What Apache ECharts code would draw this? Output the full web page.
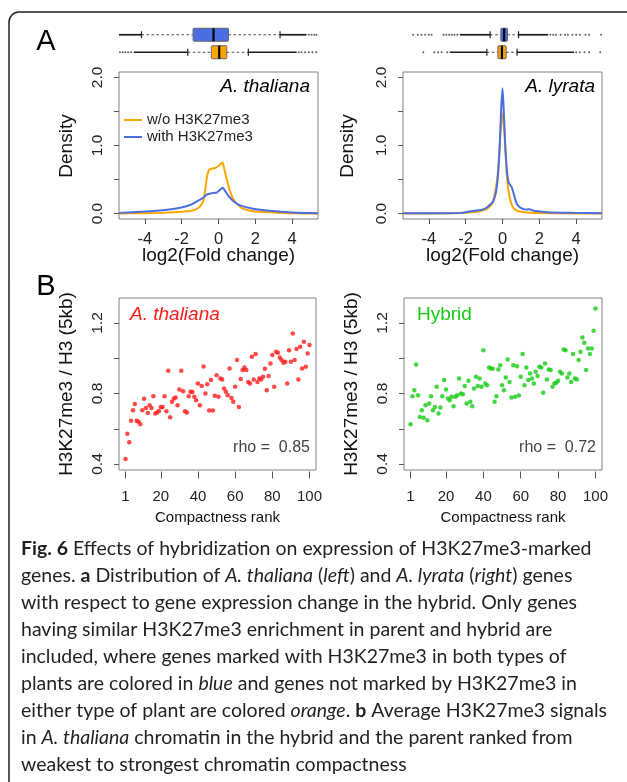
<!DOCTYPE html>
<html><head><meta charset="utf-8">
<script src="https://cdn.jsdelivr.net/npm/echarts@6/dist/echarts.min.js"></script>
<style>html,body{margin:0;padding:0;background:#fff}#c{width:627px;height:782px}</style>
</head><body><div id="c"></div>
<script>
// ---------- Panel A: density curves (log2 fold change) ----------
const densXTicks = [-4, -2, 0, 2, 4];
const densYTicks = [0, 0.5, 1, 1.5, 2];
const densYLabels = [0, 1, 2];

const thalOrangeX = [-5.4,-4,-3,-2,-1.5,-1.17,-0.99,-0.84,-0.72,-0.63,-0.52,-0.36,-0.18,0,0.09,0.22,0.3,0.45,0.63,0.81,1.08,1.35,1.88,2.78,4.04,5.4];
const thalOrangeY = [0.002,0.005,0.01,0.025,0.04,0.07,0.11,0.17,0.35,0.53,0.64,0.66,0.67,0.70,0.72,0.75,0.67,0.50,0.33,0.21,0.12,0.07,0.035,0.02,0.005,0.001];
const thalBlueX = [-5.4,-4,-3,-2,-1.5,-1.17,-0.84,-0.63,-0.36,-0.09,0.09,0.23,0.36,0.54,0.81,1.17,1.88,2.78,4.04,5.4];
const thalBlueY = [0.01,0.03,0.05,0.09,0.13,0.18,0.23,0.28,0.30,0.31,0.35,0.38,0.33,0.26,0.18,0.12,0.07,0.04,0.015,0.005];

const lyrOrangeX = [-5.4,-3,-2,-1.4,-1,-0.8,-0.6,-0.45,-0.3,-0.2,-0.1,0,0.1,0.2,0.3,0.45,0.6,0.8,1,1.5,2,3,5.4];
const lyrOrangeY = [0.0,0.003,0.01,0.025,0.05,0.08,0.13,0.25,0.48,0.78,1.22,1.47,1.2,0.72,0.38,0.17,0.08,0.04,0.025,0.012,0.007,0.003,0.0];
const lyrBlueX = [-5.4,-3,-2.3,-1.8,-1.05,-0.8,-0.68,-0.5,-0.35,-0.25,-0.15,-0.07,0,0.07,0.15,0.25,0.33,0.42,0.51,0.65,0.8,1.1,1.35,1.45,1.7,2.4,4,5.4];
const lyrBlueY = [0.003,0.005,0.01,0.03,0.06,0.1,0.13,0.18,0.32,0.55,1.0,1.55,1.84,1.5,1.0,0.6,0.46,0.42,0.38,0.25,0.13,0.07,0.06,0.065,0.04,0.02,0.01,0.004];

// ---------- Panel A: box plots above densities ----------
// [lower whisker, Q1, median, Q3, upper whisker]
const boxRows = ['w/o', 'with'];
const thalBlueBox = [-4.18, -1.38, -0.27, 0.54, 3.34];
const thalOrangeBox = [-1.67, -0.39, 0.04, 0.45, 1.62];
const lyrBlueBox = [-0.67, -0.09, 0.09, 0.27, 0.87];
const lyrOrangeBox = [-0.85, -0.25, -0.03, 0.2, 0.79];
// dense runs of outliers (appear as solid lines)
const thalBlueBands = [[-5.4, -4.18], [3.34, 4.78]];
const thalOrangeBands = [[-4.6, -1.67], [1.62, 4.24]];
const lyrBlueBands = [[-2.31, -0.67], [0.87, 2.48]];
const lyrOrangeBands = [[-2.86, -0.85], [0.79, 3.88]];
// sparse outliers
const thalBlueDots = [4.9, 5.05, 5.2, 5.32];
const thalOrangeDots = [-5.35, -5.2, -5.05, -4.9, -4.75, 4.35, 4.5, 4.7, 4.9, 5.1, 5.3];
const lyrBlueDots = [-4.85, -4.6, -4.4, -4.2, -4.0, -3.85, -3.2, -3.05, -2.9, -2.75, -2.6, -2.45, 2.6, 2.75, 2.9, 3.15, 3.4, 3.55, 3.8, 4.0, 4.2, 4.5, 4.7, 5.35];
const lyrOrangeDots = [-4.3, -3.7, -3.5, -3.3, -3.0, 4.0, 4.2, 4.45, 4.7, 5.3];

// ---------- Panel B: scatter vs compactness rank ----------
const rankTicks = [1, 20, 40, 60, 80, 100];
const scatYTicks = [0.4, 0.6, 0.8, 1.0, 1.2];
const scatYLabels = [0.4, 0.8, 1.2];
const ranks = Array.from({length: 100}, (_, i) => i + 1);
const thalianaVals = [0.428,0.572,0.523,0.645,0.705,0.74,0.645,0.64,0.626,0.705,
  0.77,0.718,0.69,0.734,0.718,0.785,0.686,0.692,0.701,0.724,
  0.724,0.785,0.70,0.929,0.665,0.753,0.772,0.777,0.734,0.823,
  0.929,0.813,0.70,0.692,0.785,0.81,0.808,0.781,0.762,0.857,
  0.734,0.842,0.954,0.80,0.853,0.703,0.876,0.703,0.787,0.904,
  0.781,0.885,0.88,0.828,0.81,0.79,0.942,0.775,0.753,0.838,
  0.99,0.724,0.883,0.933,0.948,0.933,0.865,0.857,1.009,0.88,
  1.024,0.866,0.885,0.88,0.895,0.94,0.819,0.90,0.97,1.018,
  0.838,1.037,1.031,1.005,0.99,0.974,0.98,0.857,1.046,0.98,
  1.141,0.99,1.052,0.88,1.065,0.942,1.094,0.952,1.027,1.075];
const hybridVals = [0.626,0.785,0.819,0.965,0.79,0.667,0.705,0.663,0.734,0.648,
  0.743,0.785,0.705,0.724,0.838,0.686,0.72,0.785,0.876,0.823,
  0.772,0.762,0.781,0.728,0.781,0.79,0.885,0.80,0.796,0.842,
  0.743,0.872,0.753,0.728,0.828,0.895,0.842,0.885,0.838,1.046,
  0.857,0.847,0.948,0.942,0.94,0.753,0.785,0.936,0.961,0.847,
  0.819,0.891,0.993,0.866,0.777,0.961,0.781,0.955,0.789,0.895,
  1.024,0.847,0.948,0.876,0.914,0.885,0.857,0.923,0.899,0.952,
  0.948,0.804,0.971,0.88,0.936,0.933,0.838,0.857,0.861,0.872,
  0.923,0.914,1.05,1.046,0.891,0.914,0.866,1.024,0.885,0.88,
  0.99,1.037,1.118,1.088,0.933,1.056,1.024,1.056,1.156,1.283];

// ---------- helpers ----------
const FONT = 'Liberation Sans, Arial, sans-serif';
const ORANGE = '#FFA500', BLUE = '#4A6EE0', RED = '#FF1A1A', GREEN = '#14CC14';
const zip = (xs, ys) => xs.map((x, i) => [x, ys[i]]);
const boxItem = (rowName, b) => [boxRows.indexOf(rowName), ...b];
const bandItems = (rowName, bands) => bands.map(b => [boxRows.indexOf(rowName), b[0], b[1]]);
const dotItems = (rowName, dots) => dots.map(d => [d, boxRows.indexOf(rowName)]);

function renderBox(params, api) {
  const row = api.value(0);
  const p = [1, 2, 3, 4, 5].map(i => api.coord([api.value(i), row]));
  const y = p[2][1], h = 13, cap = 3.5;
  const wl = {stroke: '#444', lineWidth: 1, lineDash: [2.5, 2.5]};
  return {type: 'group', children: [
    {type: 'line', shape: {x1: p[0][0], y1: y, x2: p[1][0], y2: y}, style: wl},
    {type: 'line', shape: {x1: p[3][0], y1: y, x2: p[4][0], y2: y}, style: wl},
    {type: 'line', shape: {x1: p[0][0], y1: y - cap, x2: p[0][0], y2: y + cap}, style: {stroke: '#222', lineWidth: 1.2}},
    {type: 'line', shape: {x1: p[4][0], y1: y - cap, x2: p[4][0], y2: y + cap}, style: {stroke: '#222', lineWidth: 1.2}},
    {type: 'rect', shape: {x: p[1][0], y: y - h / 2, width: p[3][0] - p[1][0], height: h, r: 1},
      style: {fill: api.visual('color'), stroke: '#666', lineWidth: 1}},
    {type: 'line', shape: {x1: p[2][0], y1: y - h / 2, x2: p[2][0], y2: y + h / 2}, style: {stroke: '#000', lineWidth: 2.2}}
  ]};
}
function renderBand(params, api) {
  const row = api.value(0);
  const a = api.coord([api.value(1), row]), b = api.coord([api.value(2), row]);
  return {type: 'line', shape: {x1: a[0], y1: a[1], x2: b[0], y2: b[1]}, style: {stroke: '#1a1a1a', lineWidth: 1.7}};
}

const tickStyle = {color: '#555', width: 1};
const noLine = {show: false, onZero: false};
function densX(gi) {
  return {type: 'value', gridIndex: gi, min: -5.4, max: 5.4,
    axisLine: noLine, splitLine: {show: false},
    axisTick: {show: true, customValues: densXTicks, length: 5, lineStyle: tickStyle},
    axisLabel: {customValues: densXTicks, margin: 12, fontSize: 16.5, color: '#222', fontFamily: FONT}};
}
function densY(gi) {
  return {type: 'value', gridIndex: gi, min: -0.08, max: 2.08,
    axisLine: noLine, splitLine: {show: false},
    axisTick: {show: true, customValues: densYTicks, length: 5, lineStyle: tickStyle},
    axisLabel: {customValues: densYLabels, rotate: 90, margin: 13, fontSize: 15.5, color: '#222', fontFamily: FONT,
      formatter: v => Number(v).toFixed(1)}};
}
function scatX(gi) {
  return {type: 'value', gridIndex: gi, min: -2.5, max: 103.5, offset: 1.5,
    axisLine: noLine, splitLine: {show: false},
    axisTick: {show: true, customValues: rankTicks, length: 7, lineStyle: tickStyle},
    axisLabel: {customValues: rankTicks, margin: 18, fontSize: 15, color: '#222', fontFamily: FONT}};
}
function scatY(gi) {
  return {type: 'value', gridIndex: gi, min: 0.366, max: 1.342,
    axisLine: noLine, splitLine: {show: false},
    axisTick: {show: true, customValues: scatYTicks, length: 5, lineStyle: tickStyle},
    axisLabel: {customValues: scatYLabels, rotate: 90, margin: 13, fontSize: 15.5, color: '#222', fontFamily: FONT,
      formatter: v => Number(v).toFixed(1)}};
}
function boxX(gi) {
  return {type: 'value', gridIndex: gi, min: -5.4, max: 5.4, show: false, axisLine: {onZero: false}};
}
function boxY(gi) {
  return {type: 'category', gridIndex: gi, data: boxRows, show: false, axisLine: {onZero: false}};
}

const gridBorder = {show: true, borderColor: '#808080', borderWidth: 1, backgroundColor: 'transparent'};

const txt = (x, y, text, extra) => ({type: 'text', x, y, silent: true,
  style: Object.assign({text, fill: '#111', font: '19px ' + FONT, textAlign: 'center', textVerticalAlign: 'middle'}, extra || {})});
const vtxt = (x, y, text, size) => ({type: 'text', x, y, rotation: Math.PI / 2, silent: true,
  style: {text, fill: '#111', font: size + 'px ' + FONT, textAlign: 'center', textVerticalAlign: 'middle'}});

const captionLines = [
  '{b|Fig. 6} Effects of hybridization on expression of H3K27me3-marked',
  'genes. {b|a} Distribution of {i|A. thaliana} ({i|left}) and {i|A. lyrata} ({i|right}) genes',
  'with respect to gene expression change in the hybrid. Only genes',
  'having similar H3K27me3 enrichment in parent and hybrid are',
  'included, where genes marked with H3K27me3 in both types of',
  'plants are colored in {i|blue} and genes not marked by H3K27me3 in',
  'either type of plant are colored {i|orange}. {b|b} Average H3K27me3 signals',
  'in {i|A. thaliana} chromatin in the hybrid and the parent ranked from',
  'weakest to strongest chromatin compactness'
];
const CAPFONT = 'Lato, "Open Sans", sans-serif';

const option = {
  animation: false,
  backgroundColor: '#fff',
  grid: [
    Object.assign({left: 119, top: 72, width: 199, height: 147}, gridBorder),
    Object.assign({left: 403, top: 72, width: 199, height: 147}, gridBorder),
    Object.assign({left: 119, top: 298, width: 197, height: 172}, gridBorder),
    Object.assign({left: 404, top: 298, width: 198, height: 172}, gridBorder),
    {left: 119, top: 26, width: 199, height: 35},
    {left: 403, top: 26, width: 199, height: 35}
  ],
  xAxis: [densX(0), densX(1), scatX(2), scatX(3), boxX(4), boxX(5)],
  yAxis: [densY(0), densY(1), scatY(2), scatY(3), boxY(4), boxY(5)],
  legend: {
    left: 124, top: 112.5, orient: 'vertical', padding: 0, itemGap: 2,
    itemWidth: 18, itemHeight: 2, icon: 'rect', selectedMode: false,
    textStyle: {fontSize: 15, color: '#222', fontFamily: FONT},
    data: ['w/o H3K27me3', 'with H3K27me3']
  },
  series: [
    {name: 'w/o H3K27me3', type: 'line', xAxisIndex: 0, yAxisIndex: 0, data: zip(thalOrangeX, thalOrangeY),
      showSymbol: false, smooth: 0.25, color: ORANGE, lineStyle: {width: 2}},
    {name: 'with H3K27me3', type: 'line', xAxisIndex: 0, yAxisIndex: 0, data: zip(thalBlueX, thalBlueY),
      showSymbol: false, smooth: 0.25, color: BLUE, lineStyle: {width: 2}},
    {name: 'w/o H3K27me3', type: 'line', xAxisIndex: 1, yAxisIndex: 1, data: zip(lyrOrangeX, lyrOrangeY),
      showSymbol: false, smooth: 0.25, color: ORANGE, lineStyle: {width: 2}},
    {name: 'with H3K27me3', type: 'line', xAxisIndex: 1, yAxisIndex: 1, data: zip(lyrBlueX, lyrBlueY),
      showSymbol: false, smooth: 0.25, color: BLUE, lineStyle: {width: 2}},

    {type: 'scatter', xAxisIndex: 2, yAxisIndex: 2, data: zip(ranks, thalianaVals), symbolSize: 4.5, itemStyle: {color: RED}},
    {type: 'scatter', xAxisIndex: 3, yAxisIndex: 3, data: zip(ranks, hybridVals), symbolSize: 4.5, itemStyle: {color: GREEN}},

    // box plots A. thaliana
    {type: 'custom', xAxisIndex: 4, yAxisIndex: 4, renderItem: renderBand,
      data: bandItems('with', thalBlueBands).concat(bandItems('w/o', thalOrangeBands))},
    {type: 'scatter', xAxisIndex: 4, yAxisIndex: 4, symbolSize: 2, itemStyle: {color: '#333'},
      data: dotItems('with', thalBlueDots).concat(dotItems('w/o', thalOrangeDots))},
    {type: 'custom', xAxisIndex: 4, yAxisIndex: 4, renderItem: renderBox, itemStyle: {color: BLUE}, data: [boxItem('with', thalBlueBox)]},
    {type: 'custom', xAxisIndex: 4, yAxisIndex: 4, renderItem: renderBox, itemStyle: {color: ORANGE}, data: [boxItem('w/o', thalOrangeBox)]},
    // box plots A. lyrata
    {type: 'custom', xAxisIndex: 5, yAxisIndex: 5, renderItem: renderBand,
      data: bandItems('with', lyrBlueBands).concat(bandItems('w/o', lyrOrangeBands))},
    {type: 'scatter', xAxisIndex: 5, yAxisIndex: 5, symbolSize: 2, itemStyle: {color: '#333'},
      data: dotItems('with', lyrBlueDots).concat(dotItems('w/o', lyrOrangeDots))},
    {type: 'custom', xAxisIndex: 5, yAxisIndex: 5, renderItem: renderBox, itemStyle: {color: BLUE}, data: [boxItem('with', lyrBlueBox)]},
    {type: 'custom', xAxisIndex: 5, yAxisIndex: 5, renderItem: renderBox, itemStyle: {color: ORANGE}, data: [boxItem('w/o', lyrOrangeBox)]}
  ],
  graphic: [
    {type: 'rect', silent: true, shape: {x: 9, y: 12, width: 700, height: 900, r: 10},
      style: {fill: 'none', stroke: '#222', lineWidth: 1.5}},
    txt(46, 42, 'A', {font: '29px ' + FONT, fill: '#000'}),
    txt(46, 287, 'B', {font: '29px ' + FONT, fill: '#000'}),
    txt(310, 87, 'A. thaliana', {font: 'italic 19px ' + FONT, textAlign: 'right', fill: '#000'}),
    txt(595, 87, 'A. lyrata', {font: 'italic 19px ' + FONT, textAlign: 'right', fill: '#000'}),
    txt(130, 315, 'A. thaliana', {font: 'italic 19px ' + FONT, textAlign: 'left', fill: RED}),
    txt(417, 315, 'Hybrid', {font: '19px ' + FONT, textAlign: 'left', fill: GREEN}),
    txt(310, 448, 'rho =  0.85', {font: '16px ' + FONT, textAlign: 'right', fill: '#444'}),
    txt(596, 448, 'rho =  0.72', {font: '16px ' + FONT, textAlign: 'right', fill: '#444'}),
    vtxt(67, 146, 'Density', 19),
    vtxt(348, 146, 'Density', 19),
    txt(218.5, 256, 'log2(Fold change)'),
    txt(502.5, 256, 'log2(Fold change)'),
    vtxt(67, 384, 'H3K27me3 / H3 (5kb)', 19),
    vtxt(352, 384, 'H3K27me3 / H3 (5kb)', 19),
    txt(217.5, 518, 'Compactness rank', {font: '15px ' + FONT}),
    txt(503, 518, 'Compactness rank', {font: '15px ' + FONT}),
    {type: 'text', x: 21, y: 535, silent: true,
      style: {text: captionLines.join('\n'), fill: '#231f20', font: '19.5px ' + CAPFONT, lineHeight: 27,
        textVerticalAlign: 'top',
        rich: {
          b: {fontWeight: 'bold', fontSize: 19.5, fontFamily: CAPFONT, lineHeight: 27, fill: '#231f20'},
          i: {fontStyle: 'italic', fontSize: 19.5, fontFamily: CAPFONT, lineHeight: 27, fill: '#231f20'}
        }}}
  ]
};

const chart = echarts.init(document.getElementById('c'), null, {renderer: 'canvas'});
chart.setOption(option);
</script>
</body></html>
